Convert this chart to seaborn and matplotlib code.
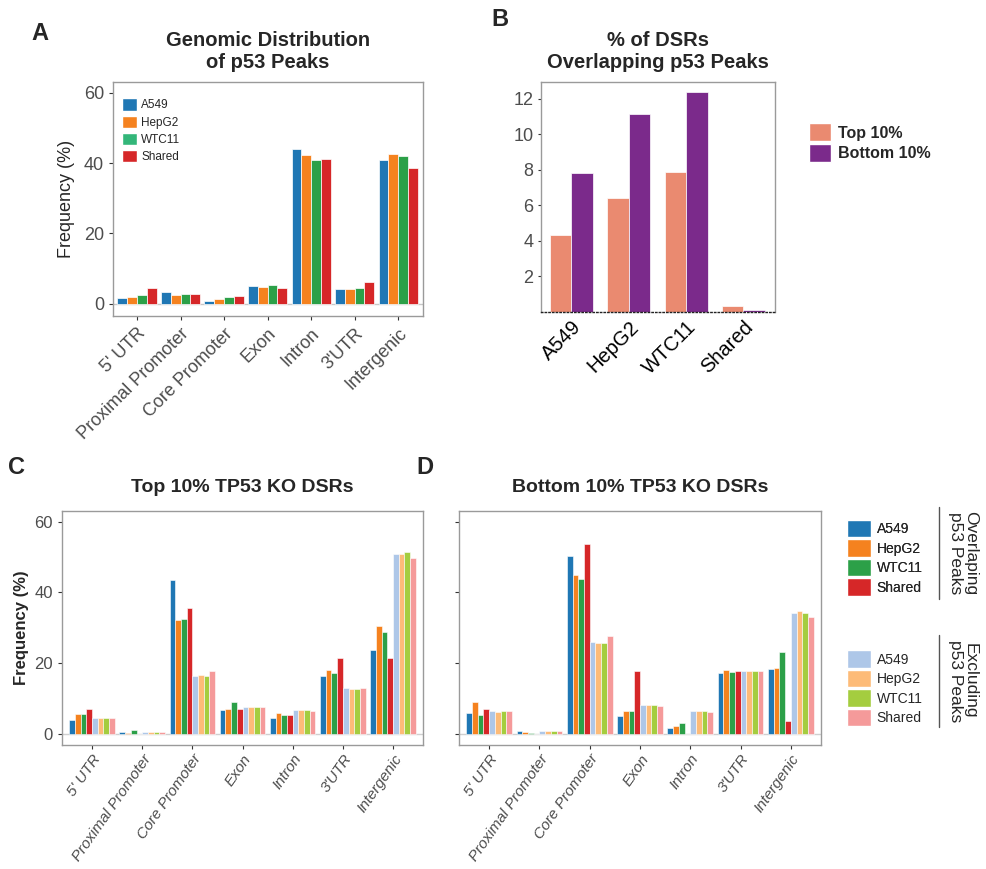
import matplotlib
matplotlib.use("Agg")
import matplotlib.pyplot as plt
import seaborn as sns
import pandas as pd
from matplotlib.patches import Patch
from matplotlib.lines import Line2D

# -----------------------------
# Data
# -----------------------------
regions = ["5' UTR", "Proximal Promoter", "Core Promoter", "Exon", "Intron", "3'UTR", "Intergenic"]
lines = ["A549", "HepG2", "WTC11", "Shared"]

# panel A: genomic distribution of p53 peaks
a549_a = [1.7, 3.4, 0.85, 5.0, 44.0, 4.3, 40.8]
hepg2_a = [2.0, 2.6, 1.4, 4.8, 42.3, 4.25, 42.6]
wtc11_a = [2.5, 2.8, 1.9, 5.4, 40.9, 4.5, 42.0]
shared_a = [4.4, 2.8, 2.3, 4.5, 41.1, 6.1, 38.7]

# panel B: % of DSRs overlapping p53 peaks
top10 = [4.33, 6.41, 7.87, 0.35]
bottom10 = [7.85, 11.12, 12.41, 0.12]

# panel C: top 10% TP53 KO DSRs
c_ov_a549 = [4.1, 0.55, 43.4, 6.7, 4.6, 16.5, 23.7]
c_ov_hepg2 = [5.6, 0.3, 32.3, 7.0, 5.9, 18.0, 30.5]
c_ov_wtc11 = [5.65, 1.1, 32.5, 9.0, 5.4, 17.1, 28.7]
c_ov_shared = [7.2, 0.0, 35.6, 7.1, 5.4, 21.4, 21.4]
c_ex_a549 = [4.5, 0.45, 16.5, 7.7, 6.7, 12.9, 50.8]
c_ex_hepg2 = [4.4, 0.45, 16.7, 7.7, 6.7, 12.7, 50.9]
c_ex_wtc11 = [4.4, 0.45, 16.4, 7.5, 6.7, 12.7, 51.4]
c_ex_shared = [4.5, 0.45, 17.7, 7.6, 6.6, 12.9, 49.7]

# panel D: bottom 10% TP53 KO DSRs
d_ov_a549 = [6.0, 0.9, 50.3, 5.1, 1.7, 17.2, 18.5]
d_ov_hepg2 = [9.0, 0.5, 44.9, 6.6, 2.3, 18.0, 18.7]
d_ov_wtc11 = [5.4, 0.4, 43.9, 6.6, 3.0, 17.5, 23.1]
d_ov_shared = [7.2, 0.0, 53.6, 17.8, 0.0, 17.9, 3.6]
d_ex_a549 = [6.5, 0.75, 25.9, 8.2, 6.5, 17.9, 34.1]
d_ex_hepg2 = [6.1, 0.75, 25.7, 8.1, 6.5, 17.9, 34.7]
d_ex_wtc11 = [6.6, 0.75, 25.6, 8.1, 6.5, 17.9, 34.3]
d_ex_shared = [6.5, 0.75, 27.6, 7.9, 6.1, 17.9, 33.1]

ov_colors = ["#1f77b4", "#f5821f", "#2ca048", "#d62728"]
ex_colors = ["#aec7e8", "#fdbb78", "#a4cd3f", "#f59a9a"]
b_colors = ["#ea8a70", "#7b2a8b"]

sns.set_style("white")
plt.rcParams["font.family"] = ["Liberation Sans", "DejaVu Sans"]

GREY = "#4d4d4d"


def long_df(series, names):
    rows = []
    for name, vals in zip(names, series):
        for reg, v in zip(regions, vals):
            rows.append({"region": reg, "group": name, "freq": v})
    return pd.DataFrame(rows)


def style_axes(ax):
    for s in ax.spines.values():
        s.set_color("#9a9a9a")
        s.set_linewidth(1.0)
    ax.tick_params(axis="both", direction="out", length=3, width=0.8, color="#333333",
                   bottom=True, left=True)


fig = plt.figure(figsize=(9.87, 8.69), dpi=100)

# -----------------------------
# Panel A
# -----------------------------
axA = fig.add_axes([0.1145, 0.6364, 0.3141, 0.2693])
dfA = long_df([a549_a, hepg2_a, wtc11_a, shared_a], lines)
sns.barplot(data=dfA, x="region", y="freq", hue="group", order=regions, hue_order=lines,
            palette=dict(zip(lines, ov_colors)), width=0.9, saturation=1,
            edgecolor="white", linewidth=0.5, errorbar=None, legend=False, ax=axA)
axA.axhline(0, color="#c8c8c8", lw=1, zorder=0)
axA.set_xlim(-0.55, 6.57)
axA.set_ylim(-3.4, 63)
axA.set_yticks([0, 20, 40, 60])
axA.set_xlabel("")
axA.set_ylabel("Frequency (%)", fontsize=13, labelpad=6)
style_axes(axA)
axA.tick_params(axis="both", labelsize=13, labelcolor=GREY)
for lab in axA.get_xticklabels():
    lab.set_rotation(45)
    lab.set_ha("right")
    lab.set_rotation_mode("anchor")
axA.set_title("Genomic Distribution\nof p53 Peaks", fontsize=14.5, fontweight="bold", pad=10)
legA = [Patch(facecolor=c, edgecolor="white", label=l)
        for c, l in zip(["#1f77b4", "#f5821f", "#33b679", "#d62728"], lines)]
axA.legend(handles=legA, loc="upper left", bbox_to_anchor=(0.0, 0.97), frameon=False,
           fontsize=8.5, handlelength=1.2, handleheight=1.2, labelspacing=0.35,
           handletextpad=0.4, borderaxespad=0.4)

# -----------------------------
# Panel B
# -----------------------------
axB = fig.add_axes([0.5481, 0.6410, 0.2371, 0.2647])
dfB = pd.DataFrame({
    "line": lines * 2,
    "set": ["Top 10%"] * 4 + ["Bottom 10%"] * 4,
    "pct": top10 + bottom10,
})
sns.barplot(data=dfB, x="line", y="pct", hue="set", order=lines,
            hue_order=["Top 10%", "Bottom 10%"], palette=b_colors, width=0.75,
            saturation=1, edgecolor="white", linewidth=0.5, errorbar=None,
            legend=False, ax=axB)
axB.set_xlim(-0.53, 3.55)
axB.set_ylim(0, 12.95)
axB.set_yticks([2, 4, 6, 8, 10, 12])
axB.set_xlabel("")
axB.set_ylabel("")
style_axes(axB)
axB.spines["bottom"].set_color("#222222")
axB.spines["bottom"].set_linestyle(":")
axB.tick_params(axis="y", labelsize=13, labelcolor=GREY, length=2)
axB.tick_params(axis="x", labelsize=14.5, labelcolor="black", length=0, pad=4)
for lab in axB.get_xticklabels():
    lab.set_rotation(45)
    lab.set_ha("right")
    lab.set_rotation_mode("anchor")
axB.set_title("% of DSRs\nOverlapping p53 Peaks", fontsize=14.5, fontweight="bold", pad=10)
legB = [Patch(facecolor=c, edgecolor="white", label=l)
        for c, l in zip(b_colors, ["Top 10%", "Bottom 10%"])]
fig.legend(handles=legB, loc="upper left", bbox_to_anchor=(0.805, 0.875), frameon=False,
           prop={"weight": "bold", "size": 11.5}, handlelength=1.4, handleheight=1.4,
           labelspacing=0.15, handletextpad=0.4)

# -----------------------------
# Panels C and D
# -----------------------------
grp_names = ["ov_A549", "ov_HepG2", "ov_WTC11", "ov_Shared",
             "ex_A549", "ex_HepG2", "ex_WTC11", "ex_Shared"]
pal8 = dict(zip(grp_names, ov_colors + ex_colors))

dfC = long_df([c_ov_a549, c_ov_hepg2, c_ov_wtc11, c_ov_shared,
               c_ex_a549, c_ex_hepg2, c_ex_wtc11, c_ex_shared], grp_names)
dfD = long_df([d_ov_a549, d_ov_hepg2, d_ov_wtc11, d_ov_shared,
               d_ex_a549, d_ex_hepg2, d_ex_wtc11, d_ex_shared], grp_names)

axC = fig.add_axes([0.0628, 0.1427, 0.3658, 0.2693])
axD = fig.add_axes([0.4650, 0.1427, 0.3668, 0.2693])

for ax, df, title in [(axC, dfC, "Top 10% TP53 KO DSRs"),
                      (axD, dfD, "Bottom 10% TP53 KO DSRs")]:
    sns.barplot(data=df, x="region", y="freq", hue="group", order=regions,
                hue_order=grp_names, palette=pal8, width=0.91, saturation=1,
                edgecolor="white", linewidth=0.4, errorbar=None, legend=False, ax=ax)
    ax.axhline(0, color="#d0d0d0", lw=1, zorder=0)
    ax.set_xlim(-0.6, 6.6)
    ax.set_ylim(-3.1, 63)
    ax.set_yticks([0, 20, 40, 60])
    ax.set_xlabel("")
    ax.set_ylabel("")
    style_axes(ax)
    ax.tick_params(axis="y", labelsize=12, labelcolor=GREY)
    ax.tick_params(axis="x", labelsize=11, labelcolor=GREY, pad=2)
    for lab in ax.get_xticklabels():
        lab.set_rotation(55)
        lab.set_ha("right")
        lab.set_rotation_mode("anchor")
        lab.set_style("italic")
    ax.set_title(title, fontsize=14, fontweight="bold", pad=14)

axC.set_ylabel("Frequency (%)", fontsize=12, fontweight="bold", labelpad=4)
axD.tick_params(axis="y", labelleft=False)

# D legends: overlapping / excluding
legOv = [Patch(facecolor=c, edgecolor="white", label=l) for c, l in zip(ov_colors, lines)]
legEx = [Patch(facecolor=c, edgecolor="white", label=l) for c, l in zip(ex_colors, lines)]
lg1 = fig.legend(handles=legOv, loc="upper left", bbox_to_anchor=(0.853, 0.408),
                 frameon=False, fontsize=10, handlelength=1.7, handleheight=1.55,
                 labelspacing=0.15, handletextpad=0.4, borderaxespad=0)
fig.add_artist(lg1)
fig.legend(handles=legEx, loc="upper left", bbox_to_anchor=(0.853, 0.258),
           frameon=False, fontsize=10, handlelength=1.7, handleheight=1.55,
           labelspacing=0.15, handletextpad=0.4, borderaxespad=0)

fig.add_artist(Line2D([939 / 987, 939 / 987], [1 - 507 / 869, 1 - 599 / 869],
                      color="#555555", lw=1, transform=fig.transFigure))
fig.add_artist(Line2D([939 / 987, 939 / 987], [1 - 635 / 869, 1 - 727 / 869],
                      color="#555555", lw=1, transform=fig.transFigure))
fig.text(963 / 987, 1 - 553 / 869, "Overlaping\np53 Peaks", rotation=-90,
         ha="center", va="center", fontsize=12.5, linespacing=1.0)
fig.text(963 / 987, 1 - 681 / 869, "Excluding\np53 Peaks", rotation=-90,
         ha="center", va="center", fontsize=12.5, linespacing=1.0)

# -----------------------------
# Panel letters
# -----------------------------
for x, y, s in [(40, 33, "A"), (500, 20, "B"), (17, 467, "C"), (425, 467, "D")]:
    fig.text(x / 987, 1 - y / 869, s, fontsize=17, fontweight="bold",
             ha="center", va="center")

fig.savefig("out.png", dpi=100, facecolor="white")
